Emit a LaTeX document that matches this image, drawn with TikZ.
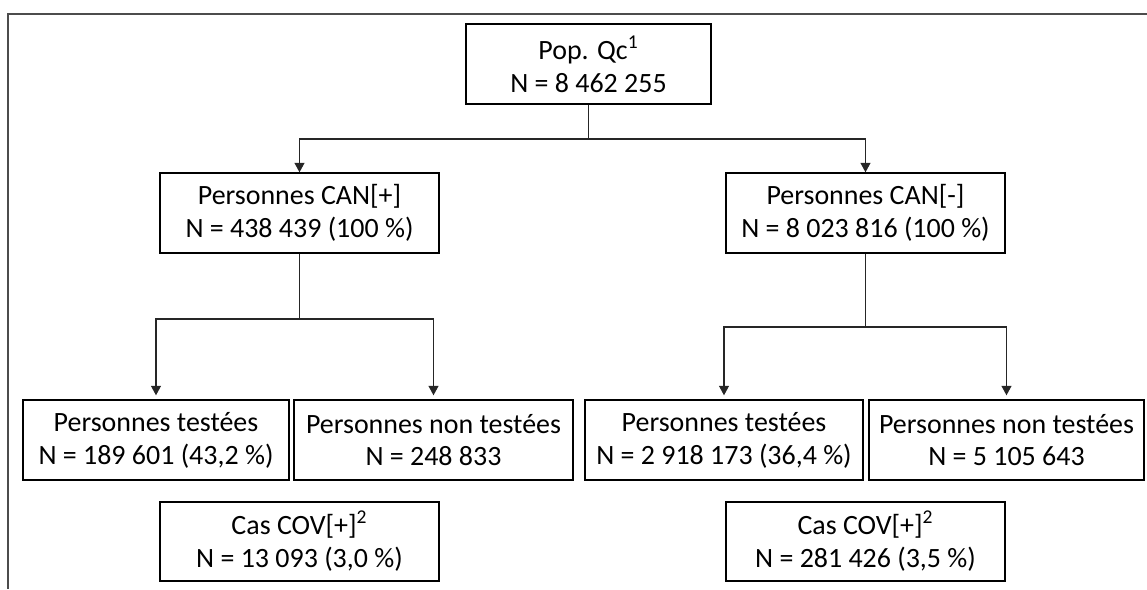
\documentclass[tikz,border=0pt]{standalone}
\usepackage{fontspec}
\setmainfont{Carlito}
\usetikzlibrary{arrows.meta}
\begin{document}
\begin{tikzpicture}[x=0.02cm,y=-0.02cm,
    >={Triangle[width=0.2cm,length=0.19cm]},
    every node/.style={font=\fontsize{15.9}{18.7}\selectfont},
    box/.style={draw,rectangle,line width=0.8pt,align=center,minimum height=1.6cm,inner sep=0pt},
    link/.style={line width=0.6pt,color=black!85}]
  \useasboundingbox (0,0) rectangle (1147,589);
  \draw[line width=1.1pt,color=black!70] (1147,14) -| (8,589);

  \node[box,minimum width=4.9cm] (p0) at (588.5,64) {Pop. Qc\textsuperscript{1}\\N = 8 462 255};

  \node[box,minimum width=5.58cm] (a1) at (299.5,213) {Personnes CAN[+]\\N = 438 439 (100 \%)};
  \node[box,minimum width=5.58cm] (b1) at (865.5,213) {Personnes CAN[-]\\N = 8 023 816 (100 \%)};

  \node[box,minimum width=5.32cm] (a2) at (156,440) {Personnes testées\\N = 189 601 (43,2 \%)};
  \node[box,minimum width=5.58cm] (a3) at (433.5,440) {Personnes non testées\\N = 248 833};
  \node[box,minimum width=5.56cm] (b2) at (724,440) {Personnes testées\\N = 2 918 173 (36,4 \%)};
  \node[box,minimum width=5.5cm] (b3) at (1006.5,440) {Personnes non testées\\N = 5 105 643};

  \node[box,minimum width=5.58cm,minimum height=1.58cm] (a4) at (299.5,541.5) {Cas COV[+]\textsuperscript{2}\\N = 13 093 (3,0 \%)};
  \node[box,minimum width=5.58cm,minimum height=1.58cm] (b4) at (865.5,541.5) {Cas COV[+]\textsuperscript{2}\\N = 281 426 (3,5 \%)};

  \coordinate (s0) at (588.5,139);
  \coordinate (s1) at (299.5,319);
  \coordinate (s2) at (865.5,327);

  \draw[link] (p0) -- (s0);
  \draw[link,->] (s0) -| (a1);
  \draw[link,->] (s0) -| (b1);

  \draw[link] (a1) -- (s1);
  \draw[link,->,shorten >=0.08cm] (s1) -| (a2);
  \draw[link,->,shorten >=0.08cm] (s1) -| (a3);

  \draw[link] (b1) -- (s2);
  \draw[link,->,shorten >=0.08cm] (s2) -| (b2);
  \draw[link,->,shorten >=0.08cm] (s2) -| (b3);
\end{tikzpicture}
\end{document}
